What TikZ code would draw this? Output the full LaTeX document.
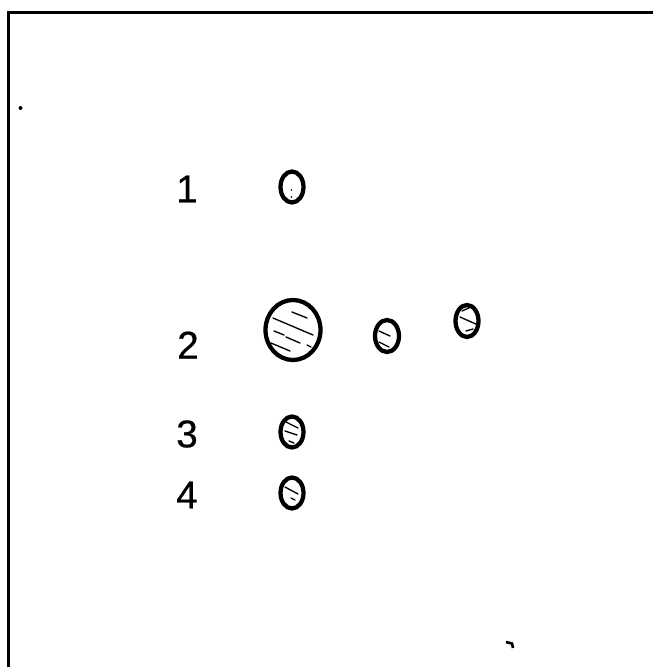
\documentclass[tikz,border=0pt]{standalone}
\usepackage{fontspec}
\setmainfont{Liberation Sans}[FakeBold=0.5]
\begin{document}
\begin{tikzpicture}[x=0.75pt,y=-0.75pt,
  frame/.style={line width=2.3pt},
  oval/.style={line width=3.2pt},
  hatch/.style={line width=1pt, line cap=round},
  lbl/.style={font=\fontsize{29}{32}\selectfont, inner sep=0pt, anchor=center}]
\useasboundingbox (0,0) rectangle (653,667);
\fill[white] (0,0) rectangle (653,667);
% frame
\draw[frame] (8.5,667) -- (8.5,12.5) -- (653,12.5);
% stray dot
\fill (20.5,108) circle (2);
% labels
\node[lbl] (l1) at (187,189) {1};
\node[lbl] (l2) at (188,345) {2};
\node[lbl] (l3) at (187,434) {3};
\node[lbl] (l4) at (187,495) {4};
% row 1
\draw[oval] (292,187) ellipse (11.5 and 15.5);
\fill (291.5,190) circle (0.8);
\fill (291.5,197) circle (0.8);
% row 2
\draw[oval] (293,330) ellipse (27.5 and 30);
\draw[hatch] (292,312) -- (307,318);
\draw[hatch] (273,318) -- (313,335);
\draw[hatch] (274,331) -- (284,335);
\draw[hatch] (286,337) -- (300,343);
\draw[hatch] (271,343) -- (290,351);
\draw[hatch] (307,345) -- (311,347);
\draw[oval] (387,336) ellipse (12 and 16);
\draw[hatch] (379,331) -- (390,336);
\draw[hatch] (379,342) -- (389,347);
\draw[oval] (467,321) ellipse (11.5 and 16);
\draw[hatch] (462,311) -- (471,307);
\draw[hatch] (460,317) -- (478,325);
\draw[hatch] (466,331) -- (473,329);
% row 3
\draw[oval] (292,432) ellipse (11.5 and 15.5);
\draw[hatch] (286,422) -- (298,428);
\draw[hatch] (285,431) -- (297,435);
\draw[hatch] (289,441) -- (294,443);
% row 4
\draw[oval] (292,493) ellipse (11.5 and 15.5);
\draw[hatch] (285,487) -- (298,494);
\draw[hatch] (291,498) -- (295,500);
% stray mark
\draw[line width=2pt] (506,642) -- (512,643.5) -- (513,648);
\end{tikzpicture}
\end{document}
